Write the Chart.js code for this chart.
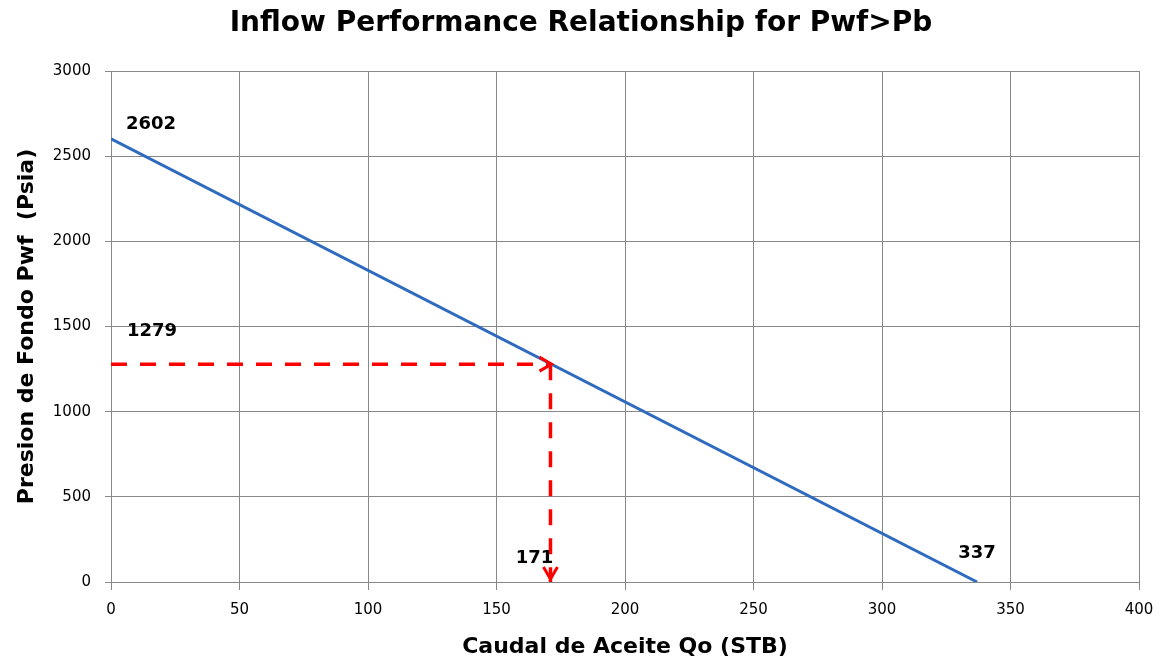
<!DOCTYPE html>
<html>
<head>
<meta charset="utf-8">
<script src="https://cdn.jsdelivr.net/npm/chart.js@4/dist/chart.umd.min.js"></script>
<style>
  html, body { margin: 0; padding: 0; background: #ffffff; }
  #wrap { width: 1170px; height: 664px; }
</style>
</head>
<body>
<div id="wrap"><canvas id="ipr" width="1170" height="664"></canvas></div>
<script>
// IPR straight line (Pwf > Pb): end points
const iprQo = [0, 337];
const iprPwf = [2602, 0];

// Operating point
const opQo = 171;
const opPwf = 1279;

// Axis ticks
const xTicks = [0, 50, 100, 150, 200, 250, 300, 350, 400];
const yTicks = [0, 500, 1000, 1500, 2000, 2500, 3000];

const chartTitle = 'Inflow Performance Relationship for Pwf>Pb';

const BLUE = '#2E6BBF';
const RED = '#FF0000';
const GRID = '#888888';
const SANS = '"DejaVu Sans", Verdana, sans-serif';

// Value labels drawn next to points: [x, y, text, dx, dy]
const valueLabels = [
  [iprQo[0], iprPwf[0], String(iprPwf[0]), 40, -14],
  [0, opPwf, String(opPwf), 41, -33],
  [opQo, 0, String(opQo), -16, -24],
  [iprQo[1], iprPwf[1], String(iprQo[1]), 0, -29]
];

const annotate = {
  id: 'annotate',
  afterDatasetsDraw(chart) {
    const {ctx, scales: {x, y}} = chart;
    ctx.save();
    // arrow heads on the dashed guides
    ctx.strokeStyle = RED;
    ctx.lineWidth = 3;
    ctx.lineCap = 'butt';
    const hx = x.getPixelForValue(opQo) + 1, hy = y.getPixelForValue(opPwf);
    ctx.beginPath();
    ctx.moveTo(hx - 12, hy - 7);
    ctx.lineTo(hx, hy);
    ctx.lineTo(hx - 12, hy + 7);
    ctx.stroke();
    const vx = x.getPixelForValue(opQo), vy = y.getPixelForValue(0) - 3;
    ctx.beginPath();
    ctx.moveTo(vx - 7, vy - 12);
    ctx.lineTo(vx, vy);
    ctx.lineTo(vx + 7, vy - 12);
    ctx.stroke();
    // value labels
    ctx.fillStyle = '#000000';
    ctx.font = 'bold 18px ' + SANS;
    ctx.textAlign = 'center';
    ctx.textBaseline = 'middle';
    valueLabels.forEach(([vxv, vyv, t, dx, dy]) => {
      ctx.fillText(t, x.getPixelForValue(vxv) + dx, y.getPixelForValue(vyv) + dy);
    });
    // chart title
    ctx.font = 'bold 28px ' + SANS;
    ctx.fillText(chartTitle, 581, 24);
    ctx.restore();
  }
};

new Chart(document.getElementById('ipr'), {
  type: 'scatter',
  data: {
    datasets: [
      {
        data: iprQo.map((q, i) => ({x: q, y: iprPwf[i]})),
        showLine: true,
        borderColor: BLUE,
        borderWidth: 3,
        pointRadius: 0
      },
      {
        data: [{x: 0, y: opPwf}, {x: opQo, y: opPwf}],
        showLine: true,
        borderColor: RED,
        borderWidth: 3.5,
        borderDash: [16, 13],
        pointRadius: 0
      },
      {
        data: [{x: opQo, y: opPwf}, {x: opQo, y: 0}],
        showLine: true,
        borderColor: RED,
        borderWidth: 3.5,
        borderDash: [16, 13],
        pointRadius: 0
      }
    ]
  },
  options: {
    responsive: false,
    animation: false,
    layout: { padding: { left: 0, right: 31, top: 71, bottom: 0 } },
    plugins: {
      legend: { display: false },
      tooltip: { enabled: false },
      title: { display: false }
    },
    scales: {
      x: {
        type: 'linear',
        min: 0, max: 400,
        afterFit(s) { s.height = 82; },
        afterBuildTicks(s) { s.ticks = xTicks.map(v => ({value: v})); },
        ticks: { color: '#000000', padding: 11, font: { family: SANS, size: 15 }, callback: v => String(v) },
        grid: { color: GRID, lineWidth: 1, tickLength: 8, tickColor: GRID },
        border: { color: GRID, width: 1 },
        title: {
          display: true,
          text: 'Caudal de Aceite Qo (STB)',
          color: '#000000',
          font: { family: SANS, size: 22, weight: 'bold' },
          padding: { top: 0, bottom: 4 }
        }
      },
      y: {
        type: 'linear',
        min: 0, max: 3000,
        afterFit(s) { s.width = 111; },
        afterBuildTicks(s) { s.ticks = yTicks.map(v => ({value: v})); },
        ticks: { color: '#000000', padding: 14, font: { family: SANS, size: 15 }, callback: v => String(v) },
        grid: { color: GRID, lineWidth: 1, tickLength: 6, tickColor: GRID },
        border: { color: GRID, width: 1 },
        title: {
          display: true,
          text: 'Presion de Fondo Pwf  (Psia)',
          color: '#000000',
          font: { family: SANS, size: 22, weight: 'bold' },
          padding: { top: 14, bottom: 0 }
        }
      }
    }
  },
  plugins: [annotate]
});
</script>
</body>
</html>
